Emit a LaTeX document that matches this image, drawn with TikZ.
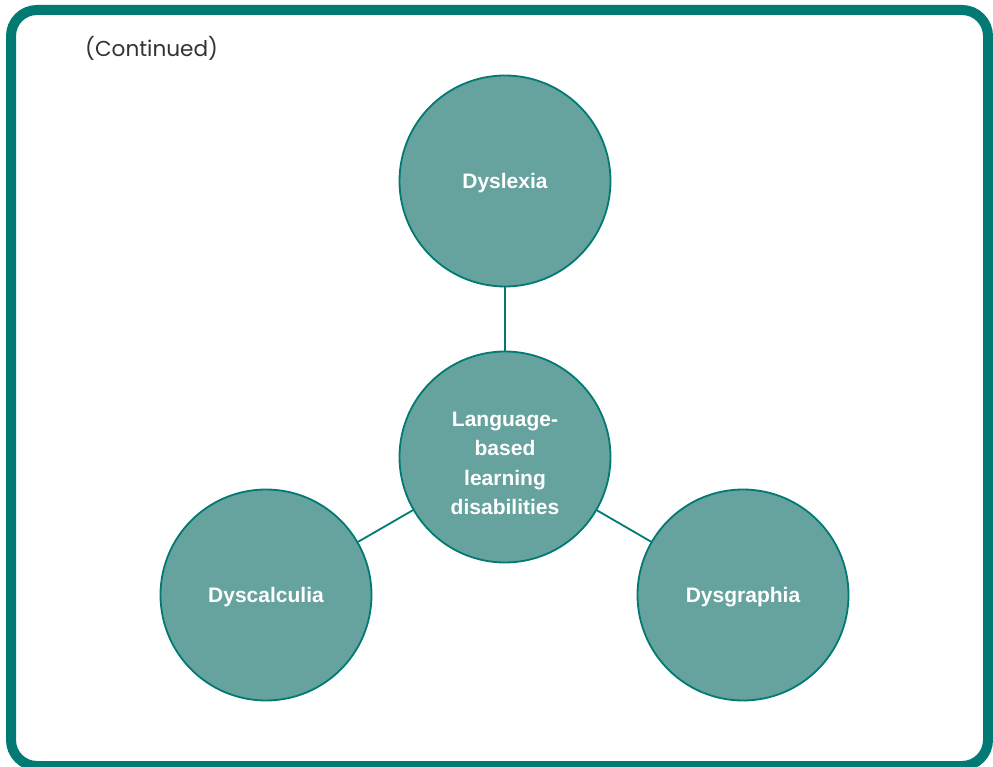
\documentclass[tikz,border=0pt]{standalone}
\usepackage{fontspec}
\setmainfont{Liberation Sans}
\newfontfamily\notefont{Poppins}
\usepackage{tikz}
\definecolor{tealline}{HTML}{007A72}
\definecolor{tealfill}{HTML}{66A29E}
\tikzstyle{topictext} = [align=center, text=white, yshift=-2.5pt, font=\bfseries\fontsize{21}{29.3}\selectfont]
\tikzstyle{topic} = [circle, draw=tealline, line width=1.8pt, fill=tealfill, minimum size=211pt, inner sep=0pt]
\tikzstyle{link} = [draw=tealline, line width=1.8pt]

\begin{document}
\begin{tikzpicture}[yscale=-1]
			\useasboundingbox (0pt,0pt) rectangle (993pt,767pt);
			\draw[tealline, line width=10pt, rounded corners=26pt] (11pt,10pt) rectangle (988pt,766pt);
			\node (cont) at (85pt,48pt)[right, inner sep=0pt, text=black!80, font=\notefont\fontsize{21.6}{24}\selectfont]{(Continued)};
			\node[topic, label={[topictext, yshift=-4pt]center:Language-\\based\\learning\\disabilities}] (lbld) at (505pt,457pt) {};
			\node[topic, label={[topictext]center:Dyslexia}] (dyslexia) at (505pt,181pt) {};
			\node[topic, label={[topictext]center:Dyscalculia}] (dyscalc) at (266pt,595pt) {};
			\node[topic, label={[topictext]center:Dysgraphia}] (dysgraph) at (743pt,595pt) {};
			\draw[link] (dyslexia) -- (lbld);
			\draw[link] (lbld) -- (dyscalc);
			\draw[link] (lbld) -- (dysgraph);
		\end{tikzpicture}
\end{document}
